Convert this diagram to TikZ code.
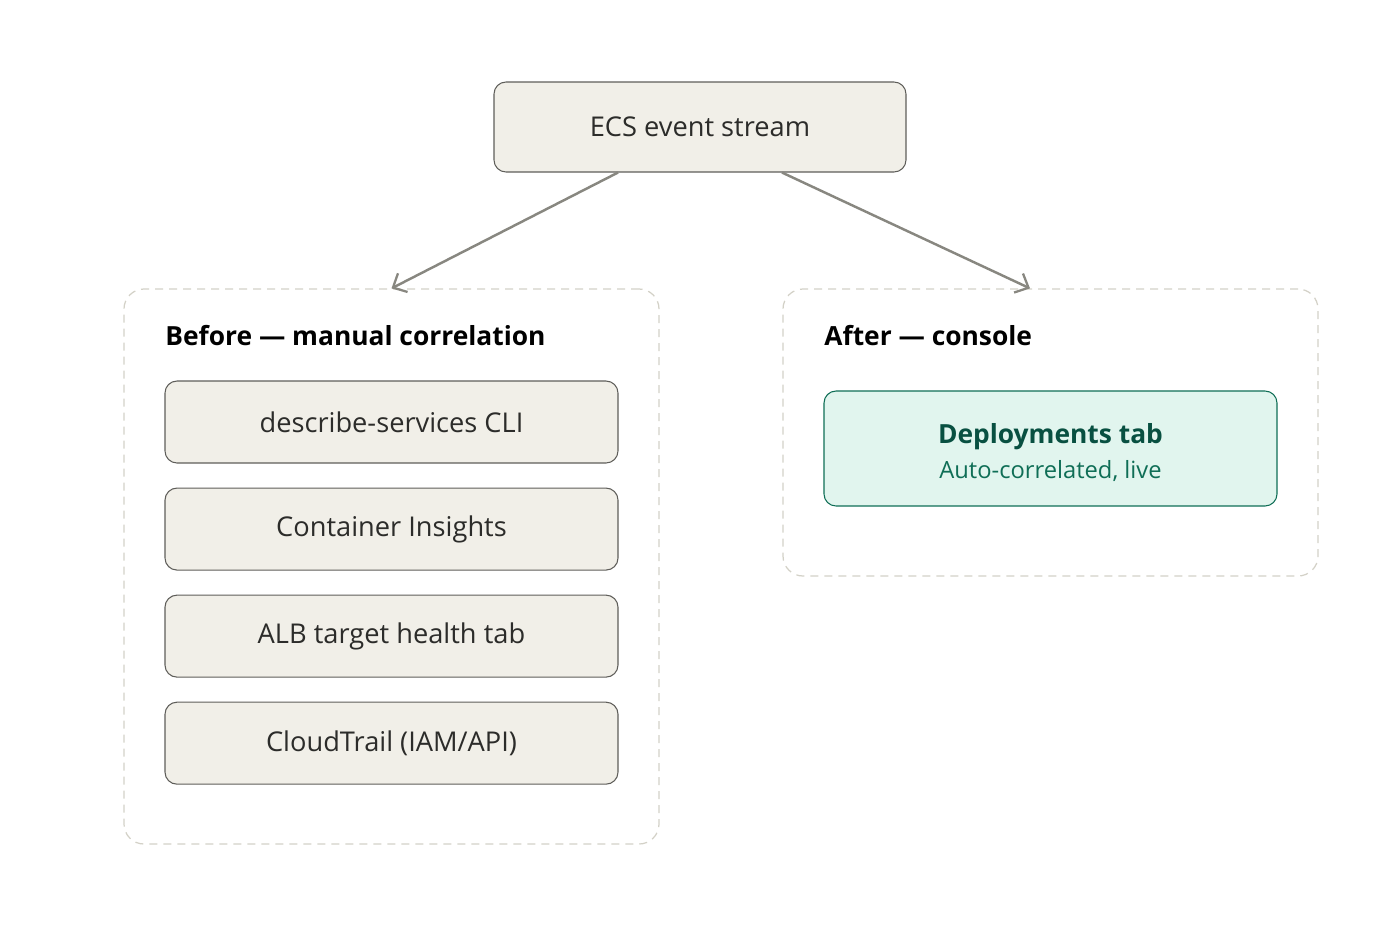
\documentclass[tikz,border=0pt]{standalone}
\usepackage{fontspec}
\setmainfont{Open Sans}
\usepackage{tikz}
\usetikzlibrary{
  arrows.meta,
  positioning,
  calc
}
\definecolor{boxfill}{HTML}{F1EFE8}
\definecolor{boxline}{HTML}{5F5E5A}
\definecolor{boxtext}{HTML}{2C2C2A}
\definecolor{arrowgray}{HTML}{888780}
\definecolor{groupline}{HTML}{D3D1C7}
\definecolor{mintfill}{HTML}{E1F5EE}
\definecolor{mintline}{HTML}{0F6E56}
\definecolor{minttext}{HTML}{085041}
\tikzset{
  toolbox/.style={
    rectangle, draw=boxline, fill=boxfill, rounded corners=0.24cm,
    minimum width=9.06cm, minimum height=1.64cm,
    font=\fontsize{15.5}{18}\selectfont, text=boxtext, align=center, line width=0.6pt
  },
  group/.style={
    rectangle, draw=groupline, dash pattern=on 0.16cm off 0.12cm,
    rounded corners=0.4cm, minimum width=10.7cm, line width=0.7pt
  },
  grouptitle/.style={
    anchor=west, font=\fontsize{15}{18}\selectfont\bfseries, text=black, inner sep=0pt
  },
  flow/.style={-{Straight Barb[length=0.22cm, width=0.42cm, line width=1.3pt]}, draw=arrowgray, line width=1.4pt},
}

\begin{document}
\begin{tikzpicture}
\useasboundingbox (0,0) rectangle (28,-18.52);

\node[toolbox, minimum width=8.24cm, minimum height=1.8cm] (ecs) at (14,-2.54) {ECS event stream};

% Groups
\node[group, minimum height=11.1cm] (before) at (7.83,-11.33) {};
\node[group, minimum height=5.74cm] (after) at (21.01,-8.65) {};

\node[grouptitle] (beforetitle) at (3.3,-6.72) {Before — manual correlation};
\node[grouptitle] (aftertitle) at (16.48,-6.72) {After — console};

% Manual tools
\node[toolbox] (cli) at (7.83,-8.44) {describe-services CLI};
\node[toolbox, below=0.48cm of cli] (insights) {Container Insights};
\node[toolbox, below=0.48cm of insights] (alb) {ALB target health tab};
\node[toolbox, below=0.48cm of alb] (trail) {CloudTrail (IAM/API)};

% Console
\node[toolbox, draw=mintline, fill=mintfill, minimum height=2.3cm, text=minttext] (deploy) at (21.01,-8.97) {\rule{0pt}{16pt}{\fontsize{15}{18}\selectfont\bfseries Deployments tab}\\[2pt]{\fontsize{13.5}{16}\selectfont\color{mintline}Auto-correlated, live}};

% Arrows
\draw[flow] ($(ecs.south)+(-1.64,0)$) -- (before.north);
\draw[flow] ($(ecs.south)+(1.64,0)$) -- ($(after.north)+(-0.41,0)$);

\end{tikzpicture}
\end{document}
